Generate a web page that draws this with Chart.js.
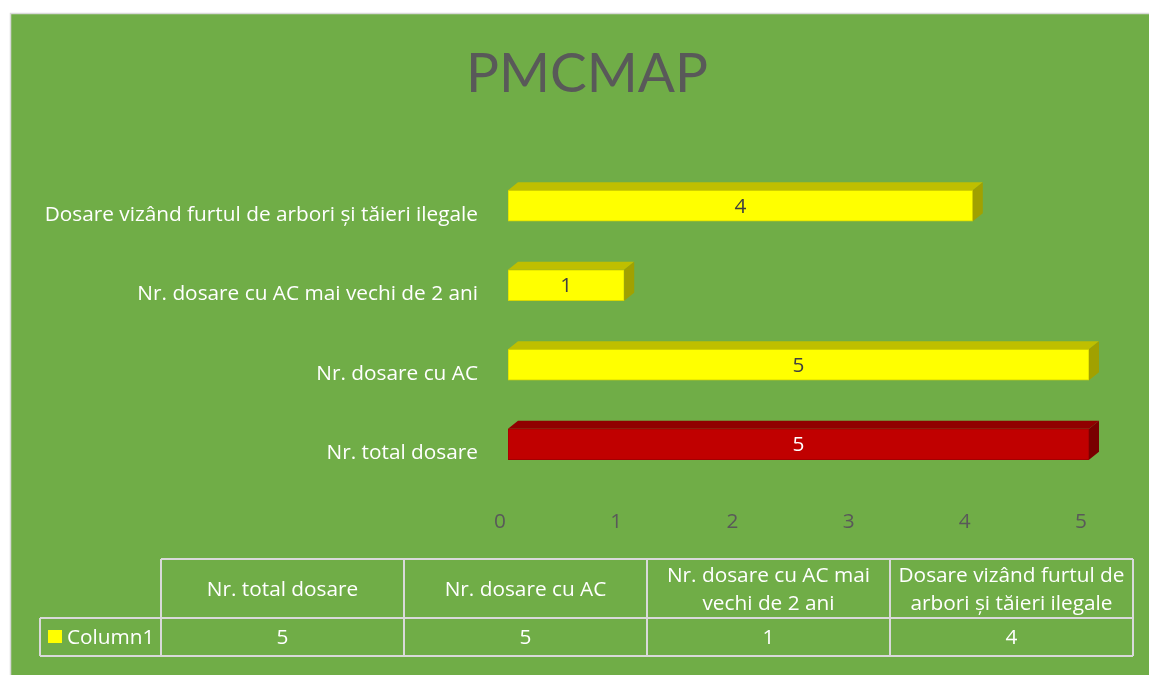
<!DOCTYPE html>
<html>
<head>
<meta charset="utf-8">
<script src="https://cdn.jsdelivr.net/npm/chart.js@4/dist/chart.umd.min.js"></script>
<style>
  html, body { margin: 0; padding: 0; background: #ffffff; }
  #wrap { width: 1149px; height: 675px; position: relative; }
</style>
</head>
<body>
<div id="wrap"><canvas id="c" width="1149" height="675"></canvas></div>
<script>
// ---- data ----
const chartTitle = 'PMCMAP';
const categories = [
  'Dosare vizând furtul de arbori și tăieri ilegale',
  'Nr. dosare cu AC mai vechi de 2 ani',
  'Nr. dosare cu AC',
  'Nr. total dosare'
];
const values = [4, 1, 5, 5];
const seriesName = 'Column1';
const xTickValues = [0, 1, 2, 3, 4, 5];
const barColors = ['#FFFF00', '#FFFF00', '#FFFF00', '#C00000'];

const TITLE_FONT = 'Lato, "Open Sans", sans-serif';
const FONT = '"Open Sans", Lato, sans-serif';
const FS = 20.8;

function shade(hex, f) {
  const n = parseInt(hex.slice(1), 16);
  const r = Math.round(((n >> 16) & 255) * f);
  const g = Math.round(((n >> 8) & 255) * f);
  const b = Math.round((n & 255) * f);
  return 'rgb(' + r + ',' + g + ',' + b + ')';
}

const bgPlugin = {
  id: 'bg',
  beforeDraw(chart) {
    const ctx = chart.ctx;
    ctx.save();
    ctx.fillStyle = '#ffffff';
    ctx.fillRect(0, 0, chart.width, chart.height);
    ctx.fillStyle = '#70AD47';
    ctx.fillRect(10, 13, chart.width - 10, chart.height - 13);
    ctx.strokeStyle = '#D9D9D9';
    ctx.lineWidth = 1.5;
    ctx.beginPath();
    ctx.moveTo(10.5, chart.height);
    ctx.lineTo(10.5, 13.5);
    ctx.lineTo(chart.width, 13.5);
    ctx.stroke();
    // title
    ctx.fillStyle = '#595959';
    ctx.font = '55px ' + TITLE_FONT;
    ctx.textAlign = 'center';
    ctx.textBaseline = 'middle';
    ctx.fillText(chartTitle, 587, 74);
    ctx.restore();
  }
};

const bar3dPlugin = {
  id: 'bar3d',
  afterDatasetsDraw(chart) {
    const ctx = chart.ctx;
    const meta = chart.getDatasetMeta(0);
    const dx = 10, dy = 8;
    ctx.save();
    meta.data.forEach((bar, i) => {
      const p = bar.getProps(['x', 'y', 'base', 'height'], true);
      const top = p.y - p.height / 2, bottom = p.y + p.height / 2;
      const l = p.base, r = p.x;
      const col = barColors[i];
      // top face
      ctx.fillStyle = shade(col, 0.75);
      ctx.beginPath();
      ctx.moveTo(l, top); ctx.lineTo(l + dx, top - dy); ctx.lineTo(r + dx, top - dy); ctx.lineTo(r, top);
      ctx.closePath(); ctx.fill();
      // side face
      ctx.fillStyle = shade(col, 0.63);
      ctx.beginPath();
      ctx.moveTo(r, top); ctx.lineTo(r + dx, top - dy); ctx.lineTo(r + dx, bottom - dy); ctx.lineTo(r, bottom);
      ctx.closePath(); ctx.fill();
      // value label
      ctx.fillStyle = col === '#C00000' ? '#ffffff' : '#404040';
      ctx.font = FS + 'px ' + FONT;
      ctx.textAlign = 'center';
      ctx.textBaseline = 'middle';
      ctx.fillText(String(values[i]), (l + r) / 2, p.y + 1);
    });
    ctx.restore();
  }
};

const tablePlugin = {
  id: 'dataTable',
  afterDraw(chart) {
    const ctx = chart.ctx;
    const cols = [161, 404, 647, 890, 1133];
    const yTop = 559, yMid = 618, yBot = 656, xLeg = 40;
    const tCats = categories.slice().reverse();
    const tVals = values.slice().reverse();
    ctx.save();
    ctx.strokeStyle = '#D9D9D9';
    ctx.lineWidth = 2;
    ctx.beginPath();
    ctx.moveTo(cols[0], yTop); ctx.lineTo(cols[4], yTop);
    ctx.moveTo(xLeg, yMid); ctx.lineTo(cols[4], yMid);
    ctx.moveTo(xLeg, yBot); ctx.lineTo(cols[4], yBot);
    ctx.moveTo(xLeg, yMid); ctx.lineTo(xLeg, yBot);
    cols.forEach(x => { ctx.moveTo(x, yTop); ctx.lineTo(x, yBot); });
    ctx.stroke();

    ctx.fillStyle = '#ffffff';
    ctx.font = FS + 'px ' + FONT;
    ctx.textAlign = 'center';
    ctx.textBaseline = 'middle';
    tCats.forEach((txt, i) => {
      const cx = (cols[i] + cols[i + 1]) / 2;
      const maxW = cols[i + 1] - cols[i] - 6;
      const words = txt.split(' ');
      const lines = [];
      let cur = '';
      words.forEach(w => {
        const t = cur ? cur + ' ' + w : w;
        if (ctx.measureText(t).width > maxW && cur) { lines.push(cur); cur = w; } else { cur = t; }
      });
      lines.push(cur);
      const lh = 28;
      const cy = (yTop + yMid) / 2 + 2;
      lines.forEach((ln, k) => {
        ctx.fillText(ln, cx, cy + (k - (lines.length - 1) / 2) * lh);
      });
      ctx.fillText(String(tVals[i]), cx, (yMid + yBot) / 2 + 1);
    });
    // legend key
    ctx.fillStyle = '#FFFF00';
    ctx.fillRect(48, 630, 14, 13);
    ctx.fillStyle = '#ffffff';
    ctx.textAlign = 'left';
    ctx.fillText(seriesName, 67, (yMid + yBot) / 2 + 1);
    ctx.restore();
  }
};

new Chart(document.getElementById('c'), {
  type: 'bar',
  data: {
    labels: categories,
    datasets: [{
      label: seriesName,
      data: values,
      backgroundColor: barColors,
      borderColor: barColors.map(c => shade(c, 0.85)),
      borderWidth: 1,
      borderSkipped: false,
      barThickness: 31,
      categoryPercentage: 1
    }]
  },
  options: {
    indexAxis: 'y',
    responsive: false,
    animation: false,
    layout: { padding: { left: 0, right: 60, top: 166, bottom: 131 } },
    plugins: { legend: { display: false }, tooltip: { enabled: false }, title: { display: false } },
    scales: {
      x: {
        min: 0, max: 5,
        afterBuildTicks(scale) { scale.ticks = xTickValues.map(v => ({ value: v })); },
        afterFit(scale) { scale.height = 60; },
        ticks: { color: '#595959', font: { family: FONT, size: FS }, padding: 26, labelOffset: -8 },
        grid: { display: false, drawTicks: false },
        border: { display: false }
      },
      y: {
        afterFit(scale) { scale.width = 508; },
        ticks: { color: '#ffffff', font: { family: FONT, size: FS }, padding: 30, labelOffset: 9 },
        grid: { display: false, drawTicks: false },
        border: { display: false }
      }
    }
  },
  plugins: [bgPlugin, bar3dPlugin, tablePlugin]
});
</script>
</body>
</html>
